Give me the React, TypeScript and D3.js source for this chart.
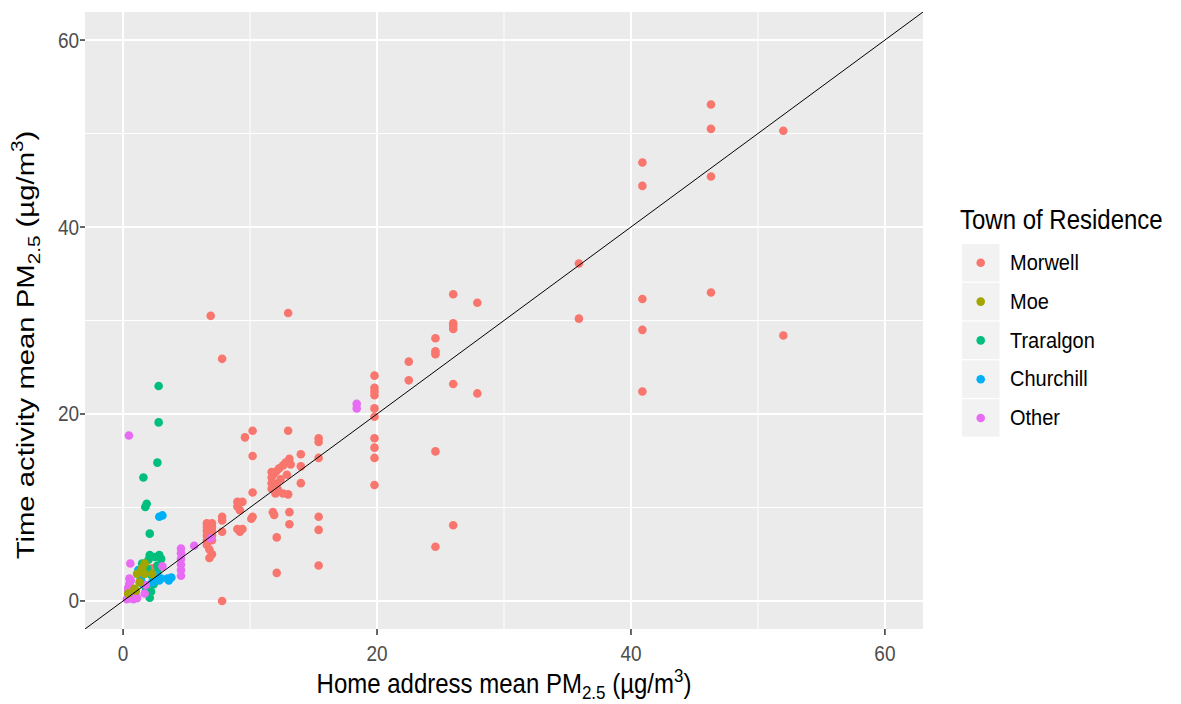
import React from "react";
import * as d3 from "d3";

type P = [number, number];

const towns = ["Morwell", "Moe", "Traralgon", "Churchill", "Other"];
const townColors = ["#F8766D", "#A3A500", "#00BF7D", "#00B0F6", "#E76BF3"];
const xTicks = [0, 20, 40, 60];
const yTicks = [0, 20, 40, 60];
const minorTicks = [10, 30, 50];

const morwell: P[] = [
  [52.0, 50.3], [52.0, 28.4], [46.3, 53.1], [46.3, 50.5], [46.3, 45.4], [46.3, 33.0],
  [40.9, 46.9], [40.9, 44.4], [40.9, 32.3], [40.9, 29.0], [40.9, 22.4], [35.9, 36.1], [35.9, 30.2],
  [27.9, 31.9], [27.9, 22.2], [26.0, 32.8], [26.0, 29.7], [26.0, 29.4], [26.0, 29.1], [26.0, 23.2],
  [26.0, 8.1], [24.6, 28.1], [24.6, 26.7], [24.6, 26.4], [24.6, 16.0], [24.6, 5.8], [22.5, 25.6], [22.5, 23.6],
  [19.8, 24.1], [19.8, 22.8], [19.8, 22.4], [19.8, 22.0], [19.8, 20.6], [19.8, 19.7], [19.8, 17.4],
  [19.8, 16.4], [19.8, 15.3], [19.8, 12.4],
  [15.4, 17.4], [15.4, 17.0], [15.4, 15.3], [15.4, 9.0], [15.4, 7.6], [15.4, 3.8],
  [14.0, 15.7], [14.0, 14.4], [14.0, 12.6],
  [13.0, 30.8], [13.0, 18.2], [13.1, 9.5], [13.1, 8.2], [13.0, 11.4], [12.6, 11.5],
  [11.7, 13.8], [11.7, 13.2], [11.7, 12.6], [11.7, 12.0], [11.9, 13.6], [12.1, 13.9], [12.1, 12.5],
  [12.3, 14.2], [12.4, 13.0], [12.6, 14.5], [12.8, 14.8], [12.9, 13.5], [13.1, 15.2], [13.2, 14.6],
  [12.0, 11.5], [12.2, 11.9],
  [11.8, 9.5], [11.9, 9.2], [12.1, 6.8], [12.1, 3.0],
  [10.2, 18.2], [9.6, 17.5], [10.2, 15.5], [10.2, 11.6], [10.1, 8.8], [10.2, 9.0],
  [9.0, 10.6], [9.4, 10.6], [9.0, 10.1], [9.2, 9.7], [9.0, 7.7], [9.4, 7.7], [9.2, 7.4],
  [7.8, 25.9], [6.9, 30.5], [7.8, 9.0], [7.8, 8.6], [7.8, 7.4], [7.8, 0.0],
  [6.6, 8.3], [7.0, 8.3], [6.6, 7.9], [7.0, 7.9], [6.6, 7.5], [7.0, 7.5], [6.6, 7.0], [7.0, 7.0],
  [6.6, 6.5], [7.0, 6.5], [6.6, 6.0], [6.8, 5.5], [7.0, 5.0], [6.8, 4.6],
  [2.3, 3.5],
];

const traralgon: P[] = [
  [2.8, 23.0], [2.8, 19.1], [2.7, 14.8], [1.6, 13.2], [1.86, 10.4], [1.75, 10.05], [2.1, 7.2],
  [2.1, 0.35], [2.1, 4.9], [2.85, 4.9], [2.5, 4.7], [1.5, 4.0], [2.7, 3.8], [2.7, 3.1], [2.2, 1.0],
  [1.8, 1.3], [2.2, 2.8], [1.9, 3.5], [2.4, 1.8], [2.0, 4.4], [3.0, 4.5],
];

const churchill: P[] = [
  [2.85, 9.0], [3.1, 9.15], [2.85, 2.2], [3.5, 2.4], [3.6, 2.2], [1.5, 1.85], [2.3, 2.0],
  [3.0, 2.4], [1.4, 2.4], [2.6, 2.8], [1.2, 3.3], [3.8, 2.5],
];

const other: P[] = [
  [0.46, 17.7], [18.4, 21.1], [18.4, 20.6], [6.9, 6.7], [5.6, 5.9], [4.56, 5.6], [4.56, 5.1],
  [4.56, 4.5], [4.56, 3.9], [4.56, 3.3], [4.56, 2.7], [3.1, 3.7], [0.57, 4.0], [0.5, 2.4],
  [0.5, 1.9], [0.4, 1.4], [0.4, 1.0], [0.5, 0.5], [0.3, 0.2], [0.8, 0.2], [1.0, 0.6], [1.7, 0.8],
  [1.8, 1.7], [0.6, 2.2], [1.1, 0.3],
];

const moe: P[] = [
  [1.7, 4.0], [1.7, 2.9], [1.1, 2.9], [2.3, 2.9], [1.0, 1.1], [0.4, 0.8], [1.3, 2.0], [0.9, 1.3], [1.5, 3.5],
];

// draw order: Morwell, Traralgon, Churchill, Other, Moe
const drawOrder: { data: P[]; town: string }[] = [
  { data: morwell, town: "Morwell" },
  { data: traralgon, town: "Traralgon" },
  { data: churchill, town: "Churchill" },
  { data: other, town: "Other" },
  { data: moe, town: "Moe" },
];

const W = 1181;
const H = 704;
const panel = { left: 85, right: 923, top: 12, bottom: 629 };
const FONT = "'Liberation Sans', Arial, sans-serif";
const SY = 1.12; // vertical stretch of horizontal text
const SL = 1.22; // lengthwise stretch of the vertical title

function HText(props: {
  x: number;
  y: number;
  size: number;
  anchor?: "start" | "middle" | "end";
  fill?: string;
  children: React.ReactNode;
}) {
  return (
    <g transform={`translate(${props.x},${props.y}) scale(1,${SY})`}>
      <text x={0} y={0} textAnchor={props.anchor || "start"} fontSize={props.size} fill={props.fill || "#000"}>
        {props.children}
      </text>
    </g>
  );
}

export default function App() {
  const x = d3.scaleLinear().domain([-3, 63]).range([panel.left, panel.right]);
  const y = d3.scaleLinear().domain([-3, 63]).range([panel.bottom, panel.top]);
  const color = d3.scaleOrdinal<string, string>().domain(towns).range(townColors);

  const line = d3.line<number>().x((d) => x(d)).y((d) => y(d));

  return (
    <svg
      width={W}
      height={H}
      style={{ position: "absolute", left: 0, top: 0, background: "#fff" }}
      fontFamily={FONT}
    >
      <defs>
        <clipPath id="pclip">
          <rect x={panel.left} y={panel.top} width={panel.right - panel.left} height={panel.bottom - panel.top} />
        </clipPath>
      </defs>
      <rect x={panel.left} y={panel.top} width={panel.right - panel.left} height={panel.bottom - panel.top} fill="#EBEBEB" />
      {minorTicks.map((t) => (
        <g key={"mn" + t}>
          <line x1={x(t)} x2={x(t)} y1={panel.top} y2={panel.bottom} stroke="#fff" strokeWidth={1} />
          <line x1={panel.left} x2={panel.right} y1={y(t)} y2={y(t)} stroke="#fff" strokeWidth={1} />
        </g>
      ))}
      {xTicks.map((t) => (
        <line key={"gx" + t} x1={x(t)} x2={x(t)} y1={panel.top} y2={panel.bottom} stroke="#fff" strokeWidth={2} />
      ))}
      {yTicks.map((t) => (
        <line key={"gy" + t} x1={panel.left} x2={panel.right} y1={y(t)} y2={y(t)} stroke="#fff" strokeWidth={2} />
      ))}
      <g clipPath="url(#pclip)">
        {drawOrder.map((s) =>
          s.data.map((d, i) => (
            <circle key={s.town + i} cx={x(d[0])} cy={y(d[1])} r={4.3} fill={color(s.town)} />
          ))
        )}
        <path d={line([-3, 63]) || ""} stroke="#000" strokeWidth={1} fill="none" />
      </g>
      {/* x axis */}
      {xTicks.map((t) => (
        <g key={"xt" + t}>
          <line x1={x(t)} x2={x(t)} y1={panel.bottom} y2={panel.bottom + 6} stroke="#333" strokeWidth={1.5} />
          <HText x={x(t)} y={panel.bottom + 32} size={19} anchor="middle" fill="#4D4D4D">
            {t}
          </HText>
        </g>
      ))}
      {yTicks.map((t) => (
        <g key={"yt" + t}>
          <line x1={panel.left - 5} x2={panel.left} y1={y(t)} y2={y(t)} stroke="#333" strokeWidth={1.5} />
          <HText x={panel.left - 6} y={y(t) + 7.5} size={19} anchor="end" fill="#4D4D4D">
            {t}
          </HText>
        </g>
      ))}
      <HText x={(panel.left + panel.right) / 2} y={693} size={24} anchor="middle">
        Home address mean PM
        <tspan dy={5} fontSize={17}>2.5</tspan>
        <tspan dy={-5}> (µg/m</tspan>
        <tspan dy={-10} fontSize={17}>3</tspan>
        <tspan dy={10}>)</tspan>
      </HText>
      <g transform={`translate(34, 345) rotate(-90) scale(${SL},1)`}>
        <text x={0} y={0} textAnchor="middle" fontSize={24} fill="#000">
          Time activity mean PM
          <tspan dy={6} fontSize={17}>2.5</tspan>
          <tspan dy={-6}> (µg/m</tspan>
          <tspan dy={-11} fontSize={17}>3</tspan>
          <tspan dy={11}>)</tspan>
        </text>
      </g>
      {/* legend */}
      <HText x={960} y={229} size={24}>
        Town of Residence
      </HText>
      {towns.map((t, i) => {
        const top = 244 + i * 38.8;
        return (
          <g key={"lg" + t}>
            <rect x={962} y={top} width={37.5} height={37.5} fill="#F2F2F2" />
            <circle cx={980.7} cy={top + 18.8} r={4.3} fill={color(t)} />
            <HText x={1010} y={top + 26} size={20}>
              {t}
            </HText>
          </g>
        );
      })}
    </svg>
  );
}
